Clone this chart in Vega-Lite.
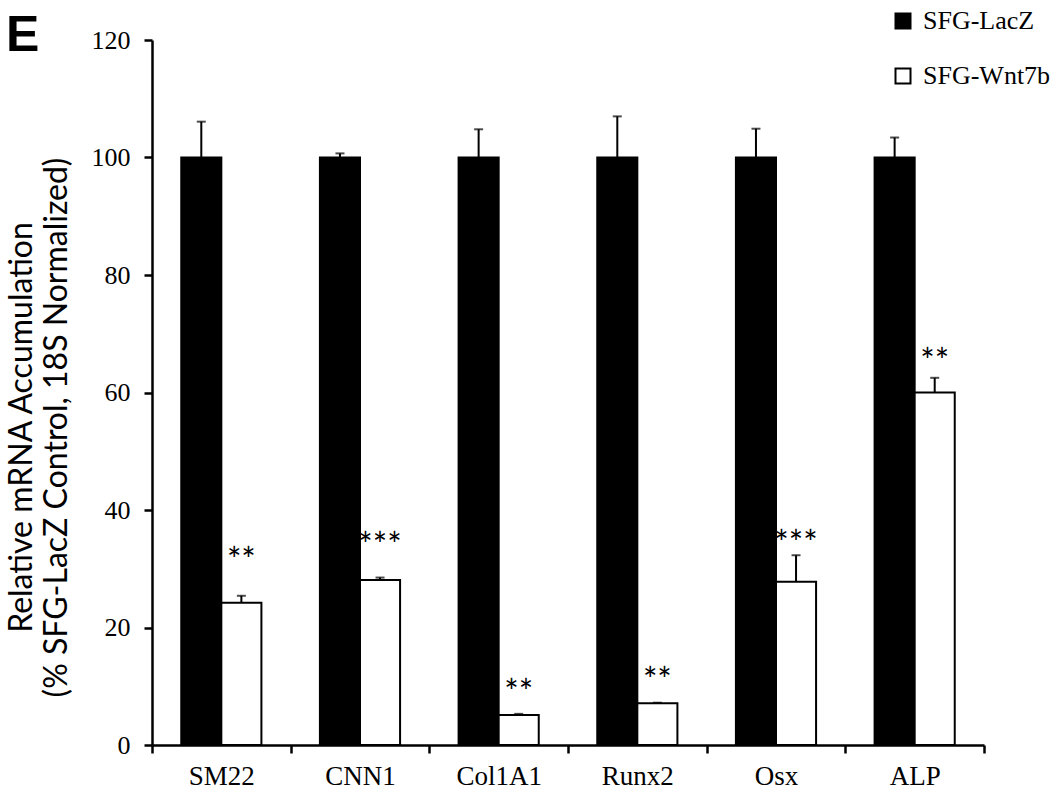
{
  "$schema": "https://vega.github.io/schema/vega-lite/v6.json",
  "width": 832,
  "height": 705,
  "autosize": {"type": "none"},
  "padding": {"left": 152, "top": 40, "right": 66, "bottom": 45},
  "background": "white",
  "title": {"text": "E", "anchor": "start", "frame": "group", "font": "Liberation Sans", "fontSize": 50, "fontWeight": "bold", "color": "black", "dx": -146, "dy": 93, "offset": 0, "baseline": "alphabetic"},
  "config": {
    "view": {"stroke": null},
    "axis": {"grid": false, "domainColor": "black", "domainWidth": 2.5, "tickColor": "black", "tickWidth": 2.5, "tickSize": 8, "labelColor": "black", "labelFont": "Liberation Serif", "labelFontSize": 26, "titleColor": "black"}
  },
  "data": {
    "values": [
      {"gene": "SM22", "group": "SFG-LacZ", "value": 100, "upper": 106.1, "star": "", "star_y": 0},
      {"gene": "SM22", "group": "SFG-Wnt7b", "value": 24.2, "upper": 25.4, "star": "**", "star_y": 32.9},
      {"gene": "CNN1", "group": "SFG-LacZ", "value": 100, "upper": 100.7, "star": "", "star_y": 0},
      {"gene": "CNN1", "group": "SFG-Wnt7b", "value": 28.1, "upper": 28.5, "star": "***", "star_y": 35.4},
      {"gene": "Col1A1", "group": "SFG-LacZ", "value": 100, "upper": 104.8, "star": "", "star_y": 0},
      {"gene": "Col1A1", "group": "SFG-Wnt7b", "value": 5.1, "upper": 5.3, "star": "**", "star_y": 10.4},
      {"gene": "Runx2", "group": "SFG-LacZ", "value": 100, "upper": 107.0, "star": "", "star_y": 0},
      {"gene": "Runx2", "group": "SFG-Wnt7b", "value": 7.1, "upper": 7.2, "star": "**", "star_y": 12.4},
      {"gene": "Osx", "group": "SFG-LacZ", "value": 100, "upper": 104.9, "star": "", "star_y": 0},
      {"gene": "Osx", "group": "SFG-Wnt7b", "value": 27.8, "upper": 32.3, "star": "***", "star_y": 35.7},
      {"gene": "ALP", "group": "SFG-LacZ", "value": 100, "upper": 103.4, "star": "", "star_y": 0},
      {"gene": "ALP", "group": "SFG-Wnt7b", "value": 60.0, "upper": 62.5, "star": "**", "star_y": 66.7}
    ]
  },
  "encoding": {
    "x": {"field": "gene", "type": "nominal", "sort": null, "title": null,
      "scale": {"paddingInner": 0, "paddingOuter": 0},
      "axis": {"labelAngle": 0, "tickBand": "extent", "labelPadding": 10, "labelBaseline": "top", "labelFontSize": 27}},
    "xOffset": {"field": "group", "type": "nominal", "sort": ["SFG-LacZ", "SFG-Wnt7b"], "scale": {"paddingInner": 0, "paddingOuter": 0.73}}
  },
  "layer": [
    {
      "mark": {"type": "rule", "stroke": "black", "strokeWidth": 2},
      "encoding": {
        "y": {"field": "value", "type": "quantitative"},
        "y2": {"field": "upper"}
      }
    },
    {
      "mark": {"type": "tick", "color": "black", "size": 9, "thickness": 2, "orient": "horizontal"},
      "encoding": {
        "y": {"field": "upper", "type": "quantitative"}
      }
    },
    {
      "mark": {"type": "bar", "stroke": "black", "strokeWidth": 2},
      "encoding": {
        "y": {"field": "value", "type": "quantitative",
          "scale": {"domain": [0, 120], "nice": false},
          "axis": {"values": [0, 20, 40, 60, 80, 100, 120], "labelPadding": 14,
            "title": ["Relative mRNA Accumulation", "(% SFG-LacZ Control, 18S Normalized)"],
            "titleFont": "Lato", "titleFontSize": 32, "titleFontWeight": "normal", "titleLineHeight": 35,
            "titleBaseline": "alphabetic", "titleX": -121, "titleY": 387, "titleAngle": -90, "titleAlign": "center"}},
        "fill": {"field": "group", "type": "nominal",
          "scale": {"domain": ["SFG-LacZ", "SFG-Wnt7b"], "range": ["black", "white"]},
          "legend": {"title": null, "orient": "none", "legendX": 738, "legendY": -32, "symbolType": "square", "symbolSize": 225, "symbolStrokeColor": "black", "symbolStrokeWidth": 2, "labelFont": "Liberation Serif", "labelFontSize": 26, "labelColor": "black", "labelOffset": 7, "rowPadding": 29}}
      }
    },
    {
      "mark": {"type": "text", "font": "Lato", "fontSize": 34, "color": "black", "baseline": "alphabetic", "dy": 20},
      "encoding": {
        "y": {"field": "star_y", "type": "quantitative"},
        "text": {"field": "star"}
      }
    }
  ]
}
